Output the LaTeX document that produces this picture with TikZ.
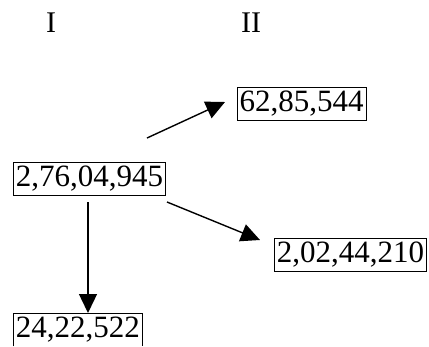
\documentclass[tikz,border=0pt]{standalone}
\usepackage{fontspec}
\setmainfont{Liberation Serif}
\usetikzlibrary{arrows.meta}
\begin{document}
\begin{tikzpicture}[x=1pt,y=-1pt,
  numbox/.style={draw,line width=0.8pt,inner xsep=2.5pt,inner ysep=0pt,minimum height=33pt,
    font=\fontsize{31}{31}\selectfont},
  numtext/.style={inner xsep=2.5pt,inner ysep=0pt,minimum height=33pt,
    font=\fontsize{31}{31}\selectfont},
  roman/.style={inner sep=0pt,font=\fontsize{30}{30}\selectfont},
  arr/.style={line width=1.4pt,-{Triangle[length=19pt,width=18pt]}}]
\useasboundingbox (0,0) rectangle (429,346);
\node[roman] (r1) at (51,23) {I};
\node[roman] (r2) at (251,23) {II};
\node[numbox] (A) at (89.5,178.5) {2,76,04,945};
\node[numbox] (B) at (301.5,103.5) {62,85,544};
\node[numbox] (C) at (350.5,254.5) {2,02,44,210};
\node[numtext,anchor=north] (D) at (78,313) {24,22,522};
\draw[line width=0.8pt] (D.south west) -- (D.north west) -- (D.north east) -- (D.south east);
\coordinate (sAD) at (88,202);
\coordinate (tAD) at (88,313);
\coordinate (sAC) at (167,202);
\coordinate (tAC) at (260,240);
\coordinate (sAB) at (147,138);
\coordinate (tAB) at (225,102);
\draw[arr] (sAD) -- (tAD);
\draw[arr] (sAC) -- (tAC);
\draw[arr] (sAB) -- (tAB);
\end{tikzpicture}
\end{document}
